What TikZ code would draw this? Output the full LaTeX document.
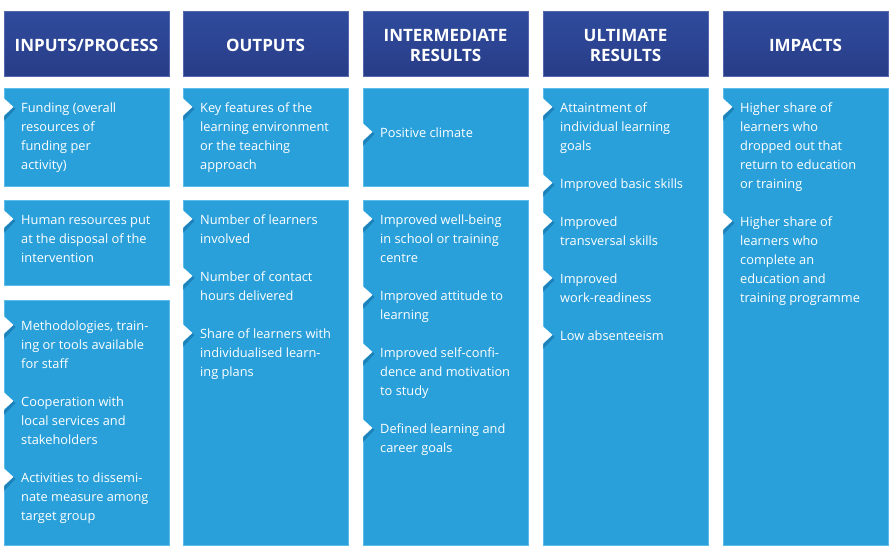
\documentclass[tikz,border=0pt]{standalone}
\usepackage{fontspec}
\setmainfont{Open Sans}
\definecolor{bodyblue}{HTML}{2AA0DB}
\definecolor{bodyedge}{HTML}{5CBDEB}
\definecolor{headtop}{HTML}{2F4B9D}
\definecolor{headbot}{HTML}{283C86}
\definecolor{headedge}{HTML}{5468AE}
\definecolor{notchshade}{HTML}{1B78B0}
\tikzset{
  bodybox/.style={fill=bodyblue, draw=bodyedge, line width=0.6pt, minimum width=165pt, anchor=north west, inner sep=0pt},
  headbox/.style={top color=headtop, bottom color=headbot, middle color=headtop!55!headbot, draw=headedge, line width=0.6pt, minimum width=165pt, minimum height=65pt, anchor=north west, inner sep=0pt},
  itemtext/.style={text=white, inner sep=0pt, anchor=base west},
  headtext/.style={text=white, inner sep=0pt, anchor=base},
}
\newcommand\itm[4]{%
  \fill[white] (#2-1,#3-9.5) -- (#2+9.5,#3) -- (#2-1,#3+9.5) -- cycle;
  \fill[notchshade, opacity=0.75] (#2+9.5,#3) -- (#2+11.5,#3+2) -- (#2,#3+14) -- (#2,#3+9.5) -- cycle;
  \node[itemtext] (#1) at (#2+17,#3+5.4) {\parbox[t]{155pt}{\fontsize{12.8}{19}\selectfont\raggedright #4}};
}
\newcommand\hdr[4]{%
  \node[headbox] (#1) at (#2,11) {};
  \node[headtext] (#1t) at (#2+82.5,#3) {\parbox[t]{165pt}{\centering\fontsize{17}{20}\selectfont\bfseries #4}};
}
\begin{document}
\begin{tikzpicture}[x=1pt,y=-1pt]
\useasboundingbox (0,0) rectangle (890,559);

% headers
\hdr{h1}{4}{51.5}{INPUTS/PROCESS}
\hdr{h2}{183}{51.5}{OUTPUTS}
\hdr{h3}{363}{41.5}{INTERMEDIATE\\RESULTS}
\hdr{h4}{543}{41.5}{ULTIMATE\\RESULTS}
\hdr{h5}{723}{51.5}{IMPACTS}

% body boxes
\node[bodybox, minimum height=98pt] (b1a) at (4,88) {};
\node[bodybox, minimum height=85pt] (b1b) at (4,200) {};
\node[bodybox, minimum height=245pt] (b1c) at (4,300) {};
\node[bodybox, minimum height=98pt] (b2a) at (183,88) {};
\node[bodybox, minimum height=345pt] (b2b) at (183,200) {};
\node[bodybox, minimum height=98pt] (b3a) at (363,88) {};
\node[bodybox, minimum height=345pt] (b3b) at (363,200) {};
\node[bodybox, minimum height=457pt] (b4) at (543,88) {};
\node[bodybox, minimum height=457pt] (b5) at (723,88) {};

% column 1
\itm{t1a}{4}{107}{Funding (overall\\resources of\\funding per\\activity)}
\itm{t1b}{4}{219}{Human resources put\\at the disposal of the\\intervention}
\itm{t1c}{4}{325}{Methodologies, train-\\ing or tools available\\for staff}
\itm{t1d}{4}{401}{Cooperation with\\local services and\\stakeholders}
\itm{t1e}{4}{477}{Activities to dissemi-\\nate measure among\\target group}

% column 2
\itm{t2a}{183}{107}{Key features of the\\learning environment\\or the teaching\\approach}
\itm{t2b}{183}{219}{Number of learners\\involved}
\itm{t2c}{183}{276}{Number of contact\\hours delivered}
\itm{t2d}{183}{333}{Share of learners with\\individualised learn-\\ing plans}

% column 3
\itm{t3a}{363}{132}{Positive climate}
\itm{t3b}{363}{219}{Improved well-being\\in school or training\\centre}
\itm{t3c}{363}{295}{Improved attitude to\\learning}
\itm{t3d}{363}{352}{Improved self-confi-\\dence and motivation\\to study}
\itm{t3e}{363}{428}{Defined learning and\\career goals}

% column 4
\itm{t4a}{543}{107}{Attaintment of\\individual learning\\goals}
\itm{t4b}{543}{183}{Improved basic skills}
\itm{t4c}{543}{221}{Improved\\transversal skills}
\itm{t4d}{543}{278}{Improved\\work-readiness}
\itm{t4e}{543}{335}{Low absenteeism}

% column 5
\itm{t5a}{723}{107}{Higher share of\\learners who\\dropped out that\\return to education\\or training}
\itm{t5b}{723}{221}{Higher share of\\learners who\\complete an\\education and\\training programme}
\end{tikzpicture}
\end{document}
